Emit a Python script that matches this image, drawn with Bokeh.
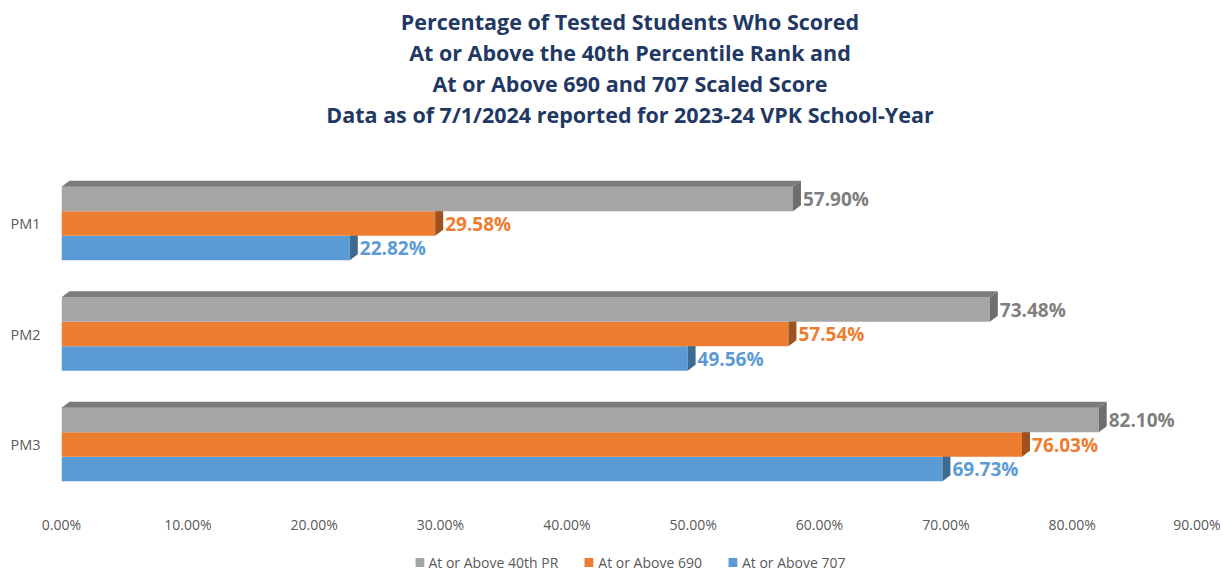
from bokeh.plotting import figure
from bokeh.models import (Title, Legend, LegendItem, FixedTicker, Range1d,
                          ColumnDataSource, PrintfTickFormatter)
from bokeh.layouts import column
from bokeh.embed import file_html
from bokeh.resources import INLINE
from bokeh.core.properties import value

# ---------------- data ----------------
categories = ["PM1", "PM2", "PM3"]
series_names = ["At or Above 40th PR", "At or Above 690", "At or Above 707"]
pr40 = [57.90, 73.48, 82.10]
above690 = [29.58, 57.54, 76.03]
above707 = [22.82, 49.56, 69.73]
x_ticks = [0, 10, 20, 30, 40, 50, 60, 70, 80, 90]
title_lines = [
    "Percentage of Tested Students Who Scored",
    "At or Above the 40th Percentile Rank and",
    "At or Above 690 and 707 Scaled Score",
    "Data as of 7/1/2024 reported for 2023-24 VPK School-Year",
]

# ---------------- styles ----------------
front_colors = ["#A5A5A5", "#ED7D31", "#5B9BD5"]
side_colors = ["#6E6E6E", "#9E5220", "#3D6A92"]
top_color = "#7B7B7B"
label_colors = ["#7F7F7F", "#ED7D31", "#5B9BD5"]
TITLE_COLOR = "#1F3864"
TEXT_GREY = "#595959"

W = 1220
H_MAIN = 552
H_LEG = 19
LEFT, RIGHT = 61, 22
TOP = 128
BOTTOM = 48
X_MAX = 90
frame_w = W - LEFT - RIGHT
px_per_x = frame_w / X_MAX
px_per_y = 110.5
DX_PX, DY_PX = 8, 6
dx = DX_PX / px_per_x
dy = DY_PX / px_per_y
bh = 24.5 / px_per_y  # bar thickness in y units

# frame edges (figure px) and where the bottom category centre sits
FRAME_TOP = TOP
FRAME_BOTTOM = H_MAIN - BOTTOM
Y0_PX = 444
y_hi = (Y0_PX - FRAME_TOP) / px_per_y
y_lo = -(FRAME_BOTTOM - Y0_PX) / px_per_y

p = figure(width=W, height=H_MAIN, output_backend="svg", toolbar_location=None, title=None,
           x_range=Range1d(0, X_MAX), y_range=Range1d(y_lo, y_hi),
           min_border_left=LEFT, min_border_right=RIGHT, min_border_top=TOP,
           min_border_bottom=BOTTOM)
p.outline_line_color = None
p.grid.visible = False

n = len(categories)
cat_y = [n - 1 - i for i in range(n)]  # PM1 at top
series = [pr40, above690, above707]
offsets = [bh, 0.0, -bh]

# draw bottom series first so upper bars hide the side-face corners
for s in [2, 1, 0]:
    vals = series[s]
    yc = [cy + offsets[s] for cy in cat_y]
    src = ColumnDataSource(dict(y=yc, right=vals, lbl=[f"{v:.2f}%" for v in vals]))
    p.hbar(y="y", left=0, right="right", height=bh, source=src,
           fill_color=front_colors[s], line_color=None)
    xs, ys = [], []
    for v, c in zip(vals, yc):
        xs.append([v, v, v + dx, v + dx])
        ys.append([c - bh / 2, c + bh / 2, c + bh / 2 + dy, c - bh / 2 + dy])
    p.patches(xs, ys, fill_color=side_colors[s], line_color=None)
    if s == 0:
        txs, tys = [], []
        for v, c in zip(vals, yc):
            t = c + bh / 2
            txs.append([0, v, v + dx, dx])
            tys.append([t, t, t + dy, t + dy])
        p.patches(txs, tys, fill_color=top_color, line_color=None)
    p.text(x="right", y="y", text="lbl", source=src, x_offset=DX_PX + 2,
           text_baseline="middle", text_align="left",
           text_font=value("Open Sans"), text_font_style="bold",
           text_font_size="19px", text_color=label_colors[s])

# ---------------- axes ----------------
xa = p.xaxis[0]
xa.ticker = FixedTicker(ticks=x_ticks)
xa.formatter = PrintfTickFormatter(format="%.2f%%")
ya = p.yaxis[0]
ya.ticker = FixedTicker(ticks=cat_y)
ya.major_label_overrides = {cy: categories[i] for i, cy in enumerate(cat_y)}
for ax in (xa, ya):
    ax.axis_line_color = None
    ax.major_tick_line_color = None
    ax.minor_tick_line_color = None
    ax.major_tick_in = 0
    ax.major_tick_out = 0
    ax.major_label_text_font = "Open Sans"
    ax.major_label_text_font_size = "14px"
    ax.major_label_text_color = TEXT_GREY
xa.major_label_standoff = 10
ya.major_label_standoff = 21
ya.major_label_text_font_size = "14.5px"

# ---------------- titles (added bottom line first) ----------------
for line in reversed(title_lines):
    t = Title(text=line, align="center", text_font="Open Sans", text_font_style="bold",
              text_font_size="21.5px", text_color=TITLE_COLOR, standoff=0)
    p.add_layout(t, "above")

# ---------------- legend (separate strip below) ----------------
lf = figure(width=W, height=H_LEG, output_backend="svg", toolbar_location=None, title=None,
            x_range=Range1d(0, 100), y_range=Range1d(10, 11),
            x_axis_location=None, y_axis_location=None,
            min_border_left=46, min_border_right=0, min_border_top=0, min_border_bottom=0)
lf.outline_line_color = None
lf.grid.visible = False
items = []
for i in range(3):
    # same data as the main chart; it lies outside this strip's range, only the legend shows
    r = lf.hbar(y=cat_y, left=0, right=series[i], height=bh,
                fill_color=front_colors[i], line_color=None)
    items.append(LegendItem(label=series_names[i], renderers=[r]))
legend = Legend(items=items, orientation="horizontal", location="center",
                label_text_font="Open Sans", label_text_font_size="14px",
                label_text_color=TEXT_GREY, glyph_width=11, glyph_height=11,
                label_standoff=4, spacing=25, padding=0, margin=0,
                border_line_color=None, background_fill_alpha=0)
lf.add_layout(legend, "center")

page = column(p, lf, spacing=0)
open("out.html", "w").write(file_html(page, INLINE))
